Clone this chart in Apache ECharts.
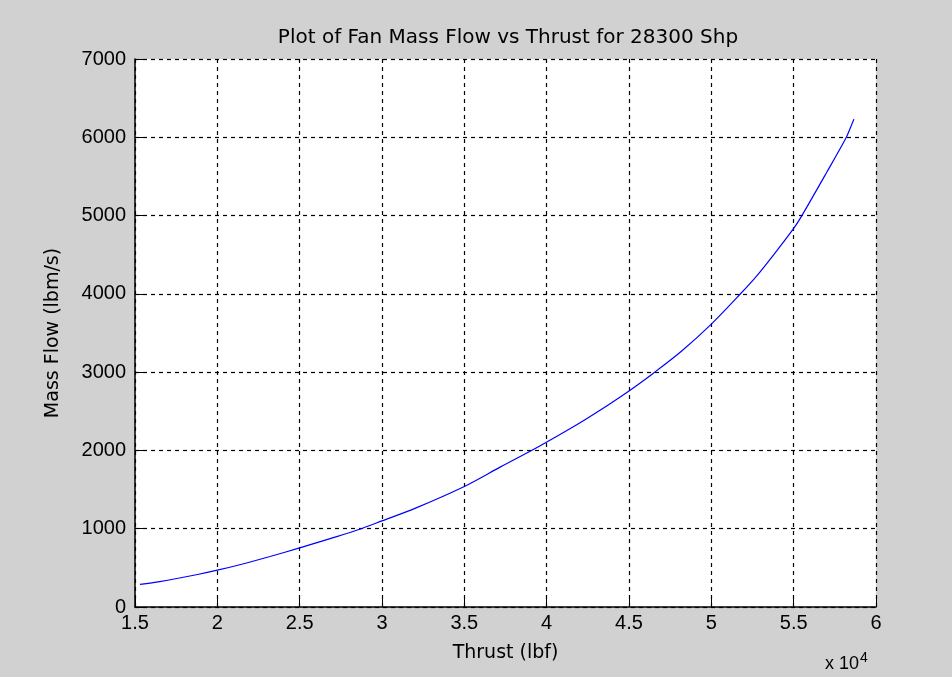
<!DOCTYPE html>
<html><head><meta charset="utf-8">
<script src="https://cdn.jsdelivr.net/npm/echarts@6/dist/echarts.min.js"></script>
<style>html,body{margin:0;padding:0;background:#d1d1d1;}#c{width:952px;height:677px;}</style>
</head><body><div id="c"></div>
<script>
var thrust = [15300,16500,18800,20000,21600,23200,25000,26900,28500,30000,32000,35000,37200,39500,41800,43000,45000,46500,48200,50000,51700,52800,53900,55000,55500,57000,58200,58500,58660];
var massFlow = [290,325,415,470,553,645,755,877,983,1100,1260,1540,1790,2047,2324,2480,2760,2990,3270,3614,3985,4240,4530,4836,5000,5550,6000,6150,6232];
var titleText = 'Plot of Fan Mass Flow vs Thrust for 28300 Shp';
var xName = 'Thrust (lbf)';
var yName = 'Mass Flow (lbm/s)';

var data = thrust.map(function(t,i){return [t, massFlow[i]];});
var font = 'Liberation Sans, Arial, sans-serif';
var font2 = 'DejaVu Sans, sans-serif';
var chart = echarts.init(document.getElementById('c'));
chart.setOption({
  backgroundColor: '#d1d1d1',
  animation: false,
  title: {text: titleText, left: 503, top: 23, textAlign: 'center',
    textStyle: {fontFamily: font2, fontSize: 20, fontWeight: 'normal', color: '#000'}},
  grid: {left: 135, right: 76, top: 59, bottom: 70, show: true, backgroundColor: '#fff', borderWidth: 0},
  xAxis: {type: 'value', min: 15000, max: 60000, interval: 5000,
    name: xName, nameLocation: 'middle', nameGap: 37,
    nameTextStyle: {fontFamily: font2, fontSize: 19, color: '#000'},
    axisLine: {lineStyle: {color: '#000', width: 1.5}},
    axisTick: {inside: true, length: 8, lineStyle: {color: '#000'}},
    axisLabel: {fontFamily: font, fontSize: 20, color: '#000', margin: 6,
      formatter: function(v){return String(v/10000);}},
    splitLine: {show: true, lineStyle: {color: '#000', type: [4,4], width: 1.2}}},
  yAxis: {type: 'value', min: 0, max: 7000, interval: 1000,
    name: yName, nameLocation: 'middle', nameGap: 72, nameRotate: 90,
    nameTextStyle: {fontFamily: font2, fontSize: 19, color: '#000'},
    axisLine: {show: true, lineStyle: {color: '#000', width: 1.5}},
    axisTick: {show: true, inside: true, length: 8, lineStyle: {color: '#000'}},
    axisLabel: {fontFamily: font, fontSize: 20, color: '#000', margin: 9,
      formatter: function(v){return String(v);}},
    splitLine: {show: true, lineStyle: {color: '#000', type: [4,4], width: 1.2}}},
  graphic: [{type: 'text', left: 825, top: 651,
    style: {text: 'x 10{s|4}', rich: {s: {fontSize: 14, verticalAlign: 'top', padding: [0,0,12,1]}},
      fontFamily: font, fontSize: 18, fill: '#000'}}],
  series: [{type: 'line', data: data, showSymbol: false, smooth: 0.3,
    lineStyle: {color: '#0000ff', width: 1.2}}]
});
</script></body></html>
